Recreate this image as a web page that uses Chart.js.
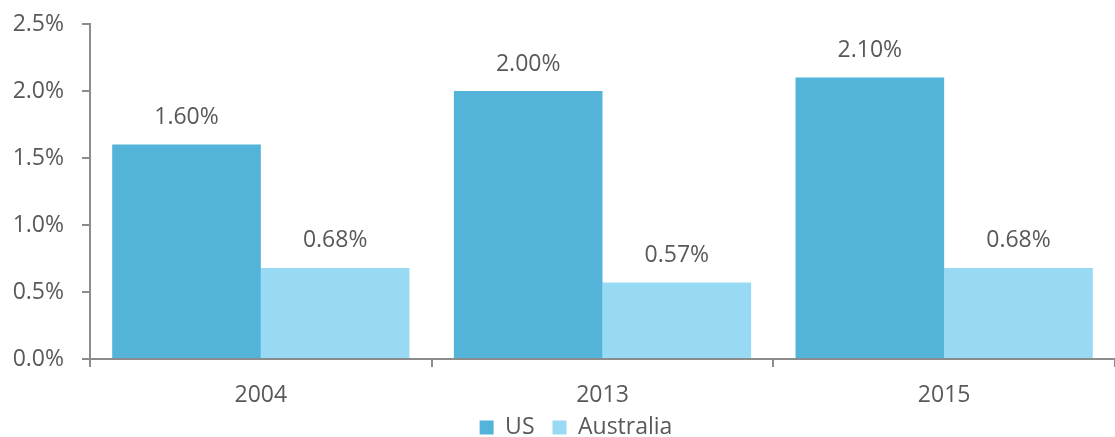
<!DOCTYPE html>
<html>
<head>
<meta charset="utf-8">
<script src="https://cdn.jsdelivr.net/npm/chart.js@4/dist/chart.umd.min.js"></script>
<style>
  html, body { margin: 0; padding: 0; background: #fff; overflow: hidden; }
  #wrap { width: 1115px; height: 437px; }
</style>
</head>
<body>
<div id="wrap"><canvas id="c" width="1115" height="437"></canvas></div>
<script>
// Years on the category axis
const years = ['2004', '2013', '2015'];
// Share values (percent) per country
const usValues = [1.60, 2.00, 2.10];
const australiaValues = [0.68, 0.57, 0.68];
// Value axis ticks (percent)
const yTicks = [0, 0.5, 1.0, 1.5, 2.0, 2.5];

const textColor = '#595959';
const axisColor = '#8c8c8c';
const fontFamily = '"Open Sans", "Noto Sans", sans-serif';
const fontSize = 23;

// Writes each bar's value above it, e.g. "1.60%"
const valueLabels = {
  id: 'valueLabels',
  afterDatasetsDraw(chart) {
    const ctx = chart.ctx;
    ctx.save();
    ctx.font = fontSize + 'px ' + fontFamily;
    ctx.fillStyle = textColor;
    ctx.textAlign = 'center';
    ctx.textBaseline = 'middle';
    chart.data.datasets.forEach((ds, i) => {
      chart.getDatasetMeta(i).data.forEach((bar, j) => {
        ctx.fillText(ds.data[j].toFixed(2) + '%', bar.x, bar.y - 27);
      });
    });
    ctx.restore();
  }
};

// Centres the legend under the plot area and tucks it up under the year labels
const legendPlacement = {
  id: 'legendPlacement',
  afterLayout(chart) {
    const lg = chart.legend;
    if (!lg) return;
    lg.left += 30;
    lg.top -= 7;
    lg.bottom -= 7;
  }
};

new Chart(document.getElementById('c'), {
  type: 'bar',
  data: {
    labels: years,
    datasets: [
      { label: 'US', data: usValues, backgroundColor: '#53b3d8' },
      { label: 'Australia', data: australiaValues, backgroundColor: '#98d9f4' }
    ]
  },
  options: {
    responsive: false,
    devicePixelRatio: 1,
    animation: false,
    layout: { padding: { top: 24, right: -7, left: 0, bottom: -19 } },
    datasets: { bar: { categoryPercentage: 0.87, barPercentage: 1.0 } },
    plugins: {
      tooltip: { enabled: false },
      legend: {
        position: 'bottom',
        labels: {
          color: textColor,
          font: { family: fontFamily, size: fontSize },
          boxWidth: 14,
          boxHeight: 14,
          padding: 18,
          generateLabels(chart) {
            return chart.data.datasets.map((ds, i) => ({
              text: ds.label,
              fillStyle: ds.backgroundColor,
              strokeStyle: ds.backgroundColor,
              lineWidth: 0,
              datasetIndex: i,
              fontColor: textColor
            }));
          }
        }
      }
    },
    scales: {
      x: {
        afterFit(scale) { scale.height = 46; },
        grid: {
          display: true,
          drawOnChartArea: false,
          drawTicks: true,
          tickLength: 8,
          color: axisColor,
          lineWidth: 2
        },
        border: { color: axisColor, width: 2 },
        ticks: {
          color: textColor,
          font: { family: fontFamily, size: fontSize },
          padding: 15
        }
      },
      y: {
        min: 0,
        max: 2.5,
        afterBuildTicks(scale) {
          scale.ticks = yTicks.map(v => ({ value: v }));
        },
        afterFit(scale) {
          scale.width = 90;
          scale.paddingTop = 0;
          scale.paddingBottom = 0;
        },
        grid: {
          display: true,
          drawOnChartArea: false,
          drawTicks: true,
          tickLength: 8,
          color: axisColor,
          lineWidth: 2
        },
        border: { color: axisColor, width: 2 },
        ticks: {
          color: textColor,
          font: { family: fontFamily, size: fontSize },
          padding: 18,
          callback: v => v.toFixed(1) + '%'
        }
      }
    }
  },
  plugins: [valueLabels, legendPlacement]
});
</script>
</body>
</html>
